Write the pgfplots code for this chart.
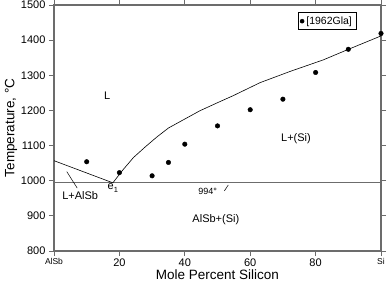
\documentclass[border=0pt]{standalone}
\usepackage{pgfplots}
\pgfplotsset{compat=1.18}
\usepackage{fontspec}
\setmainfont{Liberation Sans}
\begin{document}
\begin{tikzpicture}
\useasboundingbox (0,0) rectangle (387pt,287pt);
\begin{axis}[
  at={(54pt,36pt)}, anchor=south west,
  scale only axis, width=327pt, height=246pt,
  xmin=0, xmax=100, ymin=800, ymax=1500,
  xtick={0,20,40,60,80,100},
  xticklabels={{\fontsize{8.5}{9}\selectfont AlSb},20,40,60,80,{\fontsize{8.5}{9}\selectfont Si}},
  ytick={800,900,...,1500},
  tick align=outside, major tick length=5pt,
  axis line style={draw=gray!85!black, line width=1.2pt},
  every tick/.style={draw=gray!85!black, line width=1pt},
  tick label style={font=\fontsize{11}{13}\selectfont},
  xticklabel style={yshift=1pt},
  /pgf/number format/assume math mode=true,
  /pgf/number format/1000 sep={},
  xlabel={Mole Percent Silicon},
  ylabel={Temperature, °C},
  label style={font=\fontsize{13.5}{15}\selectfont},
  xlabel style={yshift=3pt},
  ylabel style={yshift=-3pt},
  legend style={at={(0.924,0.97)}, anchor=north east, draw=black, line width=0.5pt,
    font=\fontsize{10.5}{12}\selectfont, inner sep=2pt},
  legend image code/.code={\fill[black] (0.06cm,0cm) circle (2pt);},
]
% eutectic line
\addplot[gray!85!black, line width=1.2pt, forget plot] coordinates {(0,994) (100,994)};
% liquidus AlSb side
\addplot[black, line width=0.6pt, forget plot] coordinates {(0,1057) (18,994)};
% liquidus Si side
\addplot[black, line width=0.6pt, forget plot] coordinates {
(18,994) (21,1030) (24.3,1066) (28,1097) (31.4,1124) (35,1150) (39.5,1173)
(44.6,1199) (50,1222) (54.8,1242) (63,1279) (72.2,1311) (82.4,1344) (89.8,1373) (100,1412)};
% leader lines
\addplot[black, line width=0.5pt, forget plot] coordinates {(3.9,1026) (7.1,979)};
\addplot[black, line width=0.5pt, forget plot] coordinates {(52.1,971) (53.3,988)};
% data points
\addplot[only marks, mark=*, mark size=2.3pt, black] coordinates {
(10,1054) (20,1023) (30,1014) (35,1052) (40,1104) (50,1156) (60,1202)
(70,1232) (80,1308) (90,1374) (100,1419)};
\addlegendentry{[1962Gla]}
\node[font=\fontsize{11}{13}\selectfont] at (axis cs:16.3,1242) {L};
\node[font=\fontsize{11}{13}\selectfont] at (axis cs:74,1121) {L+(Si)};
\node[font=\fontsize{11}{13}\selectfont] at (axis cs:49.5,888) {AlSb+(Si)};
\node[font=\fontsize{11}{13}\selectfont] at (axis cs:8,957) {L+AlSb};
\node[font=\fontsize{11}{13}\selectfont] at (axis cs:18,980) {e\raisebox{-0.5ex}{\fontsize{7.5}{8}\selectfont 1}};
\node[font=\fontsize{9}{10}\selectfont] at (axis cs:47,969) {994°};
\end{axis}
\end{tikzpicture}
\end{document}
